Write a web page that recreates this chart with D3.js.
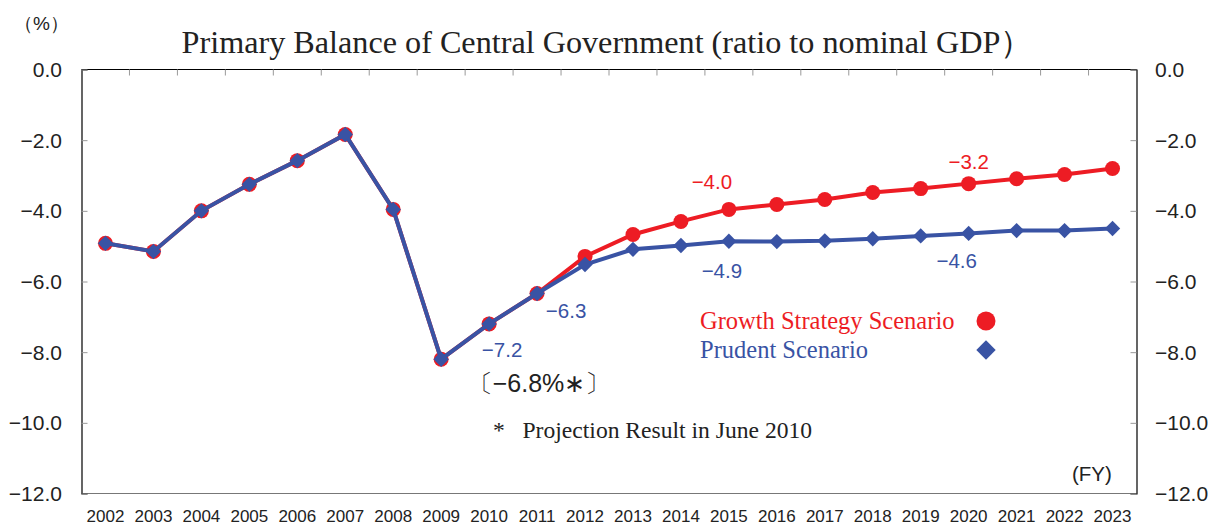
<!DOCTYPE html>
<html lang="en">
<head>
<meta charset="utf-8">
<script src="https://d3js.org/d3.v7.min.js"></script>
<style>
  body { margin: 0; background: #fff; }
  .num { font-family: "Liberation Sans Narrow", "Arial Narrow", "Liberation Sans", sans-serif; }
  .ser { font-family: "Liberation Serif", "Times New Roman", serif; }
</style>
</head>
<body>
<svg id="chart" width="1220" height="527"></svg>
<script>
// fiscal years
var years = ["2002","2003","2004","2005","2006","2007","2008","2009","2010","2011","2012",
             "2013","2014","2015","2016","2017","2018","2019","2020","2021","2022","2023"];

// growth strategy scenario (red)
var growth = [-4.92,-5.15,-4.0,-3.25,-2.58,-1.84,-3.96,-8.2,-7.2,-6.34,-5.29,
              -4.67,-4.30,-3.96,-3.82,-3.68,-3.48,-3.37,-3.23,-3.09,-2.97,-2.8];

// prudent scenario (blue)
var prudent = [-4.92,-5.15,-4.0,-3.25,-2.58,-1.84,-3.96,-8.2,-7.2,-6.34,-5.52,
               -5.09,-4.98,-4.86,-4.87,-4.85,-4.79,-4.71,-4.64,-4.56,-4.56,-4.5];

var yTicks = [0,-2,-4,-6,-8,-10,-12];

// value call-outs (dx/dy = offset of the text baseline centre from the point)
var labels = [
  {year:"2015", text:"\u22124.0", dx:-17, dy:-20, c:"red"},
  {year:"2020", text:"\u22123.2", dx:0,   dy:-15, c:"red"},
  {year:"2015", text:"\u22124.9", dx:-7,  dy:37,  c:"blue"},
  {year:"2020", text:"\u22124.6", dx:-12, dy:35,  c:"blue"},
  {year:"2011", text:"\u22126.3", dx:29,  dy:24,  c:"blue"},
  {year:"2010", text:"\u22127.2", dx:13,  dy:33,  c:"blue"}
];

var RED = "#ed1c24", BLUE = "#3953a4";

var svg = d3.select("#chart");
var pLeft = 81.5, pRight = 1136.5, pTop = 69.5, pBottom = 493.5;

var x = d3.scaleBand().domain(years).range([pLeft, pRight]);
var y = d3.scaleLinear().domain([-12, 0]).range([pBottom, pTop]);

// frame
svg.append("line").attr("x1", pLeft).attr("x2", pRight).attr("y1", pBottom).attr("y2", pBottom)
   .attr("stroke", "#777").attr("stroke-width", 1.2);
svg.append("line").attr("x1", pLeft).attr("x2", pRight).attr("y1", pTop).attr("y2", pTop)
   .attr("stroke", "#000").attr("stroke-width", 1.2);

// left / right axes, ticks inside
var yl = svg.append("g").attr("transform", "translate(" + pLeft + ",0)")
  .call(d3.axisRight(y).tickValues(yTicks).tickSize(6).tickFormat(""));
var yr = svg.append("g").attr("transform", "translate(" + pRight + ",0)")
  .call(d3.axisLeft(y).tickValues(yTicks).tickSize(6).tickFormat(""));
[yl, yr].forEach(function(g) {
  g.select(".domain").attr("stroke", "#000").attr("stroke-width", 1.2);
  g.selectAll(".tick line").attr("stroke", "#999");
});

function fmt(v) { return v === 0 ? "0.0" : "\u2212" + Math.abs(v).toFixed(1); }

svg.append("g").selectAll("text").data(yTicks).enter().append("text")
  .attr("class", "num").attr("x", 62).attr("y", function(d) { return y(d) + 7.5; })
  .attr("text-anchor", "end").attr("font-size", 21).attr("fill", "#222")
  .text(fmt);
svg.append("g").selectAll("text").data(yTicks).enter().append("text")
  .attr("class", "num").attr("x", 1155).attr("y", function(d) { return y(d) + 7.5; })
  .attr("font-size", 21).attr("fill", "#222")
  .text(fmt);

// category boundary ticks at top
svg.append("g").selectAll("line").data(years.slice(1)).enter().append("line")
  .attr("x1", function(d) { return x(d); }).attr("x2", function(d) { return x(d); })
  .attr("y1", pTop).attr("y2", pTop + 6).attr("stroke", "#999");

// year labels
svg.append("g").selectAll("text").data(years).enter().append("text")
  .attr("class", "num").attr("x", function(d) { return x(d) + x.bandwidth() / 2; })
  .attr("y", 521.5).attr("text-anchor", "middle").attr("font-size", 17).attr("fill", "#222")
  .text(function(d) { return d; });

var cx = function(d, i) { return x(years[i]) + x.bandwidth() / 2; };
var line = d3.line().x(cx).y(function(d) { return y(d); });

// red first so blue sits on top where they coincide
svg.append("path").datum(growth).attr("d", line).attr("fill", "none")
  .attr("stroke", RED).attr("stroke-width", 4);
svg.append("g").selectAll("circle").data(growth).enter().append("circle")
  .attr("cx", cx).attr("cy", function(d) { return y(d); }).attr("r", 7.5).attr("fill", RED);

svg.append("path").datum(prudent).attr("d", line).attr("fill", "none")
  .attr("stroke", BLUE).attr("stroke-width", 4);
var diamond = d3.symbol().type(d3.symbolDiamond2).size(150);
svg.append("g").selectAll("path").data(prudent).enter().append("path")
  .attr("d", diamond)
  .attr("transform", function(d, i) { return "translate(" + cx(d, i) + "," + y(d) + ")"; })
  .attr("fill", BLUE);

// call-outs
labels.forEach(function(l) {
  var i = years.indexOf(l.year);
  var v = l.c === "red" ? growth[i] : prudent[i];
  svg.append("text").attr("class", "num")
    .attr("x", x(l.year) + x.bandwidth() / 2 + l.dx)
    .attr("y", y(v) + l.dy)
    .attr("text-anchor", "middle").attr("font-size", 20.5)
    .attr("fill", l.c === "red" ? RED : BLUE)
    .text(l.text);
});

// titles and notes
svg.append("text").attr("class", "ser").attr("x", 607).attr("y", 53)
  .attr("text-anchor", "middle").attr("font-size", 32.2).attr("fill", "#222")
  .text("Primary Balance of Central Government (ratio to nominal GDP\uFF09");
svg.append("text").attr("class", "num").attr("x", 14).attr("y", 30)
  .attr("font-size", 19).attr("fill", "#222").text("\uFF08%\uFF09");
svg.append("text").attr("class", "num").attr("x", 1072).attr("y", 481)
  .attr("font-size", 20.5).attr("fill", "#222").text("(FY)");
svg.append("text").attr("class", "num").attr("x", 539).attr("y", 392)
  .attr("text-anchor", "middle").attr("font-size", 25).attr("fill", "#222")
  .text("\u3014\u22126.8%\u2217\u3015");
svg.append("text").attr("class", "ser").attr("x", 493).attr("y", 438)
  .attr("font-size", 23.6).attr("fill", "#222")
  .text("*\u2002 Projection Result in June 2010");

// legend
var legend = [{name:"Growth Strategy Scenario", c:RED, y:321, shape:"c"},
              {name:"Prudent Scenario", c:BLUE, y:350, shape:"d"}];
legend.forEach(function(l) {
  svg.append("text").attr("class", "ser").attr("x", 700).attr("y", l.y + 8)
    .attr("font-size", 24.5).attr("fill", l.c).text(l.name);
  if (l.shape === "c") {
    svg.append("circle").attr("cx", 986).attr("cy", l.y).attr("r", 9.5).attr("fill", l.c);
  } else {
    svg.append("path").attr("d", d3.symbol().type(d3.symbolDiamond2).size(240))
      .attr("transform", "translate(986," + l.y + ")").attr("fill", l.c);
  }
});
</script>
</body>
</html>
